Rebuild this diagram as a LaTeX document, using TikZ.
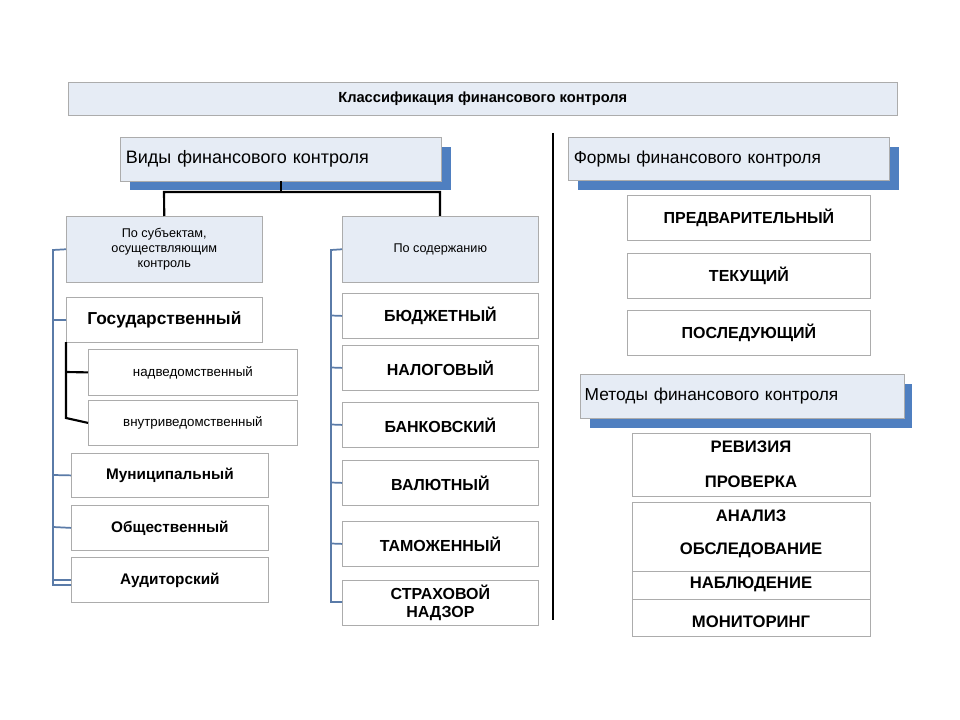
\documentclass[tikz,border=0pt]{standalone}
\usepackage{fontspec}
\setmainfont{Liberation Sans}
\begin{document}
\begin{tikzpicture}[x=0.75pt,y=-0.75pt,
  lbl/.style={font=\fontsize{12.5pt}{14pt}\selectfont\bfseries,inner sep=0},
  box/.style={draw=gray!65,line width=0.6pt},
  hdr/.style={fill=blue!8!gray!12,draw=gray!65,line width=0.6pt},
  shade/.style={fill=blue!45!cyan!40!black!60!white},
  br/.style={draw=blue!40!gray,line width=1.3pt},
  blk/.style={draw=black,line width=1.6pt}]
\useasboundingbox (0,0) rectangle (960,720);
\definecolor{shb}{HTML}{4F7FC0}
\definecolor{hf}{HTML}{E6ECF5}
\definecolor{brc}{HTML}{5A7BA8}
% title
\node[draw=gray!65,fill=hf,minimum width=829*0.75pt,minimum height=33*0.75pt,anchor=north west,
  font=\fontsize{11pt}{13pt}\selectfont\bfseries] (title) at (68,82) {Классификация финансового контроля};
% Vidy
\fill[shb] (130,147) rectangle (451,190);
\node[draw=gray!65,fill=hf,minimum width=321*0.75pt,minimum height=44*0.75pt,anchor=north west,
  font=\fontsize{13.5pt}{15pt}\selectfont,text width=310*0.75pt,align=left] (vidy) at (120,137) {Виды финансового контроля};
\node[draw=gray!65,fill=hf,minimum width=196*0.75pt,minimum height=66*0.75pt,anchor=north west,
  font=\fontsize{9.5pt}{11.5pt}\selectfont,align=center] (subj) at (66,216) {По субъектам,\\осуществляющим\\контроль};
\node[draw=gray!65,fill=hf,minimum width=196*0.75pt,minimum height=66*0.75pt,anchor=north west,
  font=\fontsize{9.5pt}{11.5pt}\selectfont,align=center] (sod) at (342,216) {По содержанию};
\coordinate (vb) at (281,181);
\draw[blk] (vb) -- (281,192);
\draw[blk] (subj.north) -- (164,192) -- (440,192) -- (440,216);
% left column
\node[box,minimum width=196*0.75pt,minimum height=45*0.75pt,anchor=north west,
  font=\fontsize{13pt}{15pt}\selectfont\bfseries] (gos) at (66,297) {Государственный};
\node[box,minimum width=209*0.75pt,minimum height=46*0.75pt,anchor=north west,
  font=\fontsize{10pt}{12pt}\selectfont] (nad) at (88,349) {надведомственный};
\node[box,minimum width=209*0.75pt,minimum height=45*0.75pt,anchor=north west,
  font=\fontsize{10pt}{12pt}\selectfont] (vnu) at (88,400) {внутриведомственный};
\node[box,minimum width=197*0.75pt,minimum height=44*0.75pt,anchor=north west,
  font=\fontsize{11.5pt}{13pt}\selectfont\bfseries] (mun) at (71,453) {Муниципальный};
\node[box,minimum width=197*0.75pt,minimum height=45*0.75pt,anchor=north west,
  font=\fontsize{11.5pt}{13pt}\selectfont\bfseries] (obs) at (71,505) {Общественный};
\node[box,minimum width=197*0.75pt,minimum height=45*0.75pt,anchor=north west,
  font=\fontsize{11.5pt}{13pt}\selectfont\bfseries] (aud) at (71,557) {Аудиторский};
\draw[draw=brc,line width=1.3pt] (subj.west) -- (53,250) -- (53,585) -- (mun.west|-0,585);
\draw[draw=brc,line width=1.3pt] (53,320) -- (gos.west);
\draw[draw=brc,line width=1.3pt] (53,475) -- (mun.west);
\draw[draw=brc,line width=1.3pt] (53,527) -- (obs.west);
\draw[draw=brc,line width=1.3pt] (53,580) -- (aud.west);
\draw[blk] (66,342) -- (66,418) -- (vnu.west);
\draw[blk] (66,372) -- (nad.west);
% middle column
\foreach \n/\y/\h/\t in {bud/293/45/БЮДЖЕТНЫЙ,nal/345/45/НАЛОГОВЫЙ,ban/402/45/БАНКОВСКИЙ,val/460/45/ВАЛЮТНЫЙ,tam/521/45/ТАМОЖЕННЫЙ}{
  \node[box,minimum width=196*0.75pt,minimum height=\h*0.75pt,anchor=north west,
    font=\fontsize{12pt}{14pt}\selectfont\bfseries] (\n) at (342,\y) {\t};
  \draw[draw=brc,line width=1.3pt] (331,\y+22.5) -- (\n.west);
}
\node[box,minimum width=196*0.75pt,minimum height=45*0.75pt,anchor=north west,align=center,
  font=\fontsize{12pt}{14pt}\selectfont\bfseries] (str) at (342,580) {СТРАХОВОЙ\\НАДЗОР};
\draw[draw=brc,line width=1.3pt] (sod.west) -- (331,250) -- (331,602) -- (str.west|-0,602);
% divider
\coordinate (d1) at (553,133); \coordinate (d2) at (553,620);
\draw[line width=2.2pt] (d1) -- (d2);
% forms
\fill[shb] (578,147) rectangle (899,190);
\node[draw=gray!65,fill=hf,minimum width=321*0.75pt,minimum height=43*0.75pt,anchor=north west,
  font=\fontsize{13pt}{15pt}\selectfont,text width=310*0.75pt,align=left] (form) at (568,137) {Формы финансового контроля};
\foreach \n/\y/\t in {pre/195/ПРЕДВАРИТЕЛЬНЫЙ,tek/253/ТЕКУЩИЙ,pos/310/ПОСЛЕДУЮЩИЙ}{
  \node[box,minimum width=243*0.75pt,minimum height=45*0.75pt,anchor=north west,
    font=\fontsize{12pt}{14pt}\selectfont\bfseries] (\n) at (627,\y) {\t};
}
% methods
\fill[shb] (590,384) rectangle (912,428);
\node[draw=gray!65,fill=hf,minimum width=322*0.75pt,minimum height=44*0.75pt,anchor=north west,
  font=\fontsize{13pt}{15pt}\selectfont,text width=315*0.75pt,align=left] (met) at (580,374) {Методы финансового контроля};
\draw[box] (632,433) rectangle (870,496);
\draw[box] (632,502) rectangle (870,571);
\draw[box] (632,571) rectangle (870,599);
\draw[box] (632,599) rectangle (870,636);
\foreach \n/\y/\t in {rev/447/РЕВИЗИЯ,pro/482/ПРОВЕРКА,ana/516/АНАЛИЗ,obsl/550/ОБСЛЕДОВАНИЕ,nab/584/НАБЛЮДЕНИЕ,mon/622/МОНИТОРИНГ}{
  \node[lbl] (\n) at (751,\y) {\t};
}
\end{tikzpicture}
\end{document}
